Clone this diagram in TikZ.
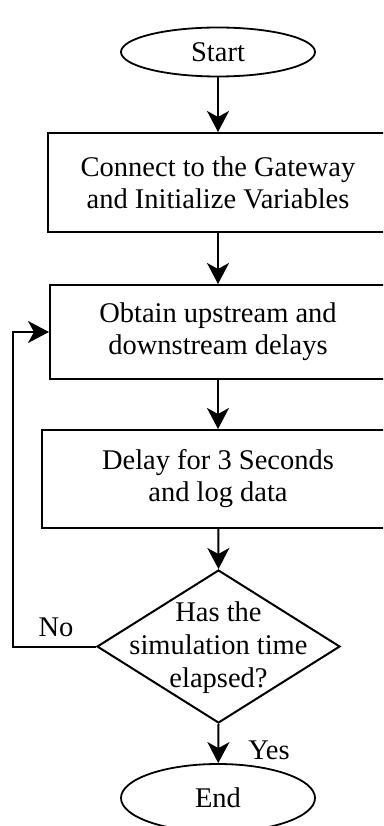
\documentclass[tikz,border=0pt]{standalone}
\usepackage{fontspec}
\setmainfont{Liberation Serif}
\usetikzlibrary{shapes.geometric,arrows.meta}
\begin{document}
\begin{tikzpicture}[x=1pt,y=-1pt,
 every node/.style={font=\fontsize{28.5}{32}\selectfont},
 terminal/.style={draw, ellipse, line width=1.8pt, minimum width=194pt, minimum height=49pt, inner sep=0pt},
 process/.style={draw, rectangle, line width=2pt, align=center, inner sep=0pt},
 decision/.style={draw, diamond, line width=2pt, minimum width=243pt, minimum height=153pt, inner sep=0pt},
 flow/.style={line width=2pt, -{Stealth[length=21pt,width=22pt,inset=6pt]}},
]
\clip (0,0) rectangle (383,826);
\node[terminal] (start) at (218,52) {Start};
\node[process, minimum width=340pt, minimum height=99pt] (init) at (218,182.5) {Connect to the Gateway\\and Initialize Variables};
\node[process, minimum width=336pt, minimum height=94pt] (obtain) at (218,332) {Obtain upstream and\\downstream delays};
\node[process, minimum width=352pt, minimum height=98pt] (delay) at (218,479) {Delay for 3 Seconds\\and log data};
\node[decision] (dec) at (218.5,646.5) {};
\node[align=center, font=\fontsize{28.5}{33}\selectfont] (dectext) at (218.5,648) {Has the\\simulation time\\elapsed?};
\node[terminal, minimum height=68pt] (end) at (218,798) {End};
\node (no) at (56,627) {No};
\node (yes) at (269,750) {Yes};
\coordinate (lc) at (13,646.5);
\draw[flow] (start) -- (init);
\draw[flow] (init) -- (obtain);
\draw[flow] (obtain) -- (delay);
\draw[flow] (delay) -- (dec.north);
\draw[flow] (dec.south) -- (end);
\draw[flow] (dec.west) -- (lc) |- (obtain.west);
\end{tikzpicture}
\end{document}
